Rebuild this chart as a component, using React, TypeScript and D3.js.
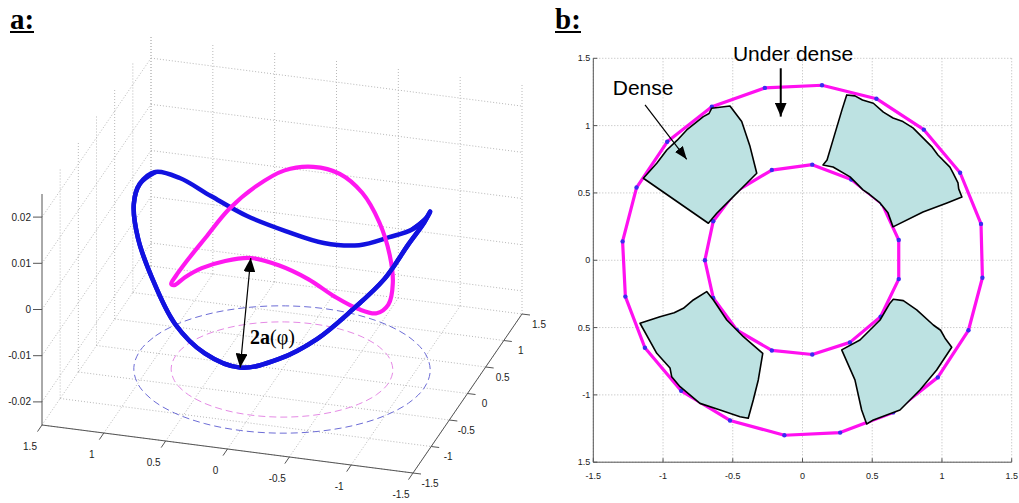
import * as d3 from "d3";

type P2 = [number, number];
type P3 = [number, number, number];

// ---------- panel a: two closed 3D curves, z read every 15 degrees ----------
const curveAngles = [0, 15, 30, 45, 60, 75, 90, 105, 120, 135, 150, 165, 180, 195, 210, 225, 240, 255, 270, 285, 300, 315, 330, 345];
const blueRadius = 1.15;
const magentaRadius = 0.86;
const blueZ = [0.0112, 0.0105, 0.0064, 0.0004, -0.0052, -0.0088, -0.0108, -0.0098, -0.0058, -0.0012, 0.0046, 0.0096, 0.0108, 0.0094, 0.0046, 0.0002, -0.005, -0.009, -0.0114, -0.0098, -0.0056, 0.0014, 0.0066, 0.0104];
const magentaZ = [-0.0078, -0.0068, -0.004, 0.0006, 0.0046, 0.0078, 0.009, 0.0086, 0.0062, 0.002, -0.0026, -0.006, -0.008, -0.0074, -0.0044, -0.0002, 0.0046, 0.0078, 0.009, 0.0072, 0.004, -0.0002, -0.0044, -0.0068];
const arrowAngleIndex = 18; // 270 degrees, where 2a(phi) is marked

const zTicks = [-0.02, -0.01, 0, 0.01, 0.02];
const zTickLabels = ["-0.02", "-0.01", "0", "0.01", "0.02"];
const xyTicks = [-1.5, -1, -0.5, 0, 0.5, 1, 1.5];
const xyTickLabels = ["-1.5", "-1", "-0.5", "0", "0.5", "1", "1.5"];

// ---------- panel b: rings and dense patches ----------
const outerRing: P2[] = [
  [-0.27, 1.28], [0.14, 1.3], [0.53, 1.2], [0.87, 0.97], [1.13, 0.65],
  [1.28, 0.27], [1.29, -0.13], [1.19, -0.52], [0.97, -0.87], [0.65, -1.13],
  [0.27, -1.28], [-0.13, -1.3], [-0.52, -1.19], [-0.87, -0.97], [-1.13, -0.65],
  [-1.27, -0.27], [-1.29, 0.14], [-1.19, 0.54], [-0.97, 0.88], [-0.65, 1.14],
];
const innerRing: P2[] = [
  [-0.22, 0.67], [0.07, 0.71], [0.35, 0.6], [0.57, 0.42], [0.69, 0.15],
  [0.69, -0.14], [0.56, -0.42], [0.34, -0.61], [0.07, -0.7], [-0.22, -0.67],
  [-0.47, -0.52], [-0.64, -0.28], [-0.7, 0.0], [-0.64, 0.29], [-0.48, 0.51],
];
const denseTopLeft: P2[] = [
  [-1.141, 0.609], [-1.045, 0.721], [-0.973, 0.819], [-0.9, 0.89], [-0.83, 0.968],
  [-0.711, 1.067], [-0.67, 1.09], [-0.651, 1.129], [-0.52, 1.146], [-0.436, 1.03],
  [-0.376, 0.844], [-0.328, 0.646], [-0.4, 0.572], [-0.496, 0.473], [-0.615, 0.349],
  [-0.675, 0.275],
];
const denseTopRight: P2[] = [
  [0.317, 1.228], [0.376, 1.221], [0.43, 1.19], [0.508, 1.166], [0.58, 1.1], [0.649, 1.057],
  [0.72, 1.03], [0.792, 0.983], [0.878, 0.894], [0.93, 0.84], [0.971, 0.782], [1.057, 0.692],
  [1.079, 0.649], [1.115, 0.574], [1.12, 0.53], [1.143, 0.47], [1.036, 0.426], [0.864, 0.359],
  [0.649, 0.248], [0.613, 0.352], [0.556, 0.426], [0.48, 0.49], [0.434, 0.523], [0.341, 0.619],
  [0.219, 0.693], [0.147, 0.708], [0.176, 0.745], [0.219, 0.894], [0.283, 1.117],
];
const denseBottomLeft: P2[] = [
  [-1.165, -0.468], [-1.022, -0.419], [-0.92, -0.39], [-0.854, -0.357], [-0.783, -0.295],
  [-0.687, -0.233], [-0.639, -0.295], [-0.543, -0.444], [-0.424, -0.568], [-0.285, -0.691],
  [-0.317, -0.889], [-0.353, -1.038], [-0.389, -1.174], [-0.448, -1.162], [-0.591, -1.112],
  [-0.735, -1.063], [-0.878, -0.939], [-0.938, -0.865], [-0.95, -0.8], [-1.045, -0.691],
];
const denseBottomRight: P2[] = [
  [0.281, -0.666], [0.412, -0.592], [0.556, -0.444], [0.627, -0.319], [0.651, -0.29],
  [0.723, -0.3], [0.819, -0.369], [0.938, -0.481], [0.99, -0.52], [1.022, -0.579], [1.07, -0.646],
  [0.962, -0.815], [0.842, -0.964], [0.699, -1.112], [0.508, -1.186], [0.46, -1.216],
  [0.424, -1.112], [0.376, -0.889],
];
const densePatches = [denseTopLeft, denseTopRight, denseBottomLeft, denseBottomRight];

// ---------- panel a projection (orthographic view of the 3D box) ----------
const zDomain: [number, number] = [-0.025, 0.025];
const corner: P2 = [42, 425]; // x=1.5, y=-1.5, z=min
const xOffX = d3.scaleLinear().domain([1.5, -1.5]).range([0, 371]);
const xOffY = d3.scaleLinear().domain([1.5, -1.5]).range([0, 48]);
const yOffX = d3.scaleLinear().domain([-1.5, 1.5]).range([0, 109]);
const yOffY = d3.scaleLinear().domain([-1.5, 1.5]).range([0, -159]);
const zOff = d3.scaleLinear().domain(zDomain).range([0, -231]);

const proj = ([x, y, z]: P3): P2 => [
  corner[0] + xOffX(x) + yOffX(y),
  corner[1] + xOffY(x) + yOffY(y) + zOff(z),
];

const rad = (deg: number) => (deg * Math.PI) / 180;
const curve3D = (r: number, zs: number[]): P3[] =>
  curveAngles.map((a, i) => [r * Math.cos(rad(a)), r * Math.sin(rad(a)), zs[i]]);

const closedLine = d3.line<P2>().curve(d3.curveCatmullRomClosed.alpha(0.5));
const openLine = d3.line<P2>().curve(d3.curveCatmullRom.alpha(0.5));

const gridStroke = "#b8b8b8";

function PanelA() {
  const [zLo, zHi] = zDomain;
  const segs: [P3, P3][] = [];
  // back wall y = 1.5
  xyTicks.forEach((x) => segs.push([[x, 1.5, zLo], [x, 1.5, zHi]]));
  zTicks.forEach((z) => segs.push([[1.5, 1.5, z], [-1.5, 1.5, z]]));
  // left wall x = 1.5
  xyTicks.filter((y) => y > -1.5).forEach((y) => segs.push([[1.5, y, zLo], [1.5, y, zHi]]));
  zTicks.forEach((z) => segs.push([[1.5, -1.5, z], [1.5, 1.5, z]]));
  // floor
  xyTicks.forEach((x) => segs.push([[x, -1.5, zLo], [x, 1.5, zLo]]));
  xyTicks.forEach((y) => segs.push([[1.5, y, zLo], [-1.5, y, zLo]]));

  const blue = curve3D(blueRadius, blueZ).map(proj);
  const magenta = curve3D(magentaRadius, magentaZ).map(proj);
  const blueFloor = curve3D(blueRadius, blueZ.map(() => zLo)).map(proj);
  const magentaFloor = curve3D(magentaRadius, magentaZ.map(() => zLo)).map(proj);
  // front half of the blue curve, redrawn over the magenta one
  const frontIdx = [9, 10, 11, 12, 13, 14, 15, 16, 17, 18, 19, 20, 21, 22, 23, 0, 1];
  const blueFront = frontIdx.map((i) => blue[i]);

  const a0 = magenta[arrowAngleIndex];
  const a1 = blue[arrowAngleIndex];

  const axisZ = [proj([1.5, -1.5, zLo]), proj([1.5, -1.5, zHi])];
  const axisX = [proj([1.5, -1.5, zLo]), proj([-1.5, -1.5, zLo])];
  const axisY = [proj([-1.5, -1.5, zLo]), proj([-1.5, 1.5, zLo])];

  return (
    <g>
      {segs.map(([p, q], i) => {
        const a = proj(p);
        const b = proj(q);
        return (
          <line key={i} x1={a[0]} y1={a[1]} x2={b[0]} y2={b[1]} stroke={gridStroke} strokeWidth={1} strokeDasharray="1,2" />
        );
      })}
      <path d={closedLine(blueFloor) ?? ""} fill="none" stroke="#6d6dd6" strokeWidth={1} strokeDasharray="7,4" />
      <path d={closedLine(magentaFloor) ?? ""} fill="none" stroke="#e58ae5" strokeWidth={1} strokeDasharray="7,4" />

      {/* axes */}
      {[axisZ, axisX, axisY].map((ax, i) => (
        <line key={i} x1={ax[0][0]} y1={ax[0][1]} x2={ax[1][0]} y2={ax[1][1]} stroke="#555" strokeWidth={1} />
      ))}
      {zTicks.map((z, i) => {
        const [px, py] = proj([1.5, -1.5, z]);
        return (
          <g key={z}>
            <line x1={px - 9} x2={px} y1={py} y2={py} stroke="#555" />
            <text x={px - 11} y={py} dy="0.35em" textAnchor="end" fontSize={10} fill="#222">
              {zTickLabels[i]}
            </text>
          </g>
        );
      })}
      {xyTicks.map((x, i) => {
        const [px, py] = proj([x, -1.5, zLo]);
        return (
          <g key={"x" + x}>
            <line x1={px} y1={py} x2={px - 4.5} y2={py + 6.6} stroke="#555" />
            <text x={px - 12} y={py + 24.5} textAnchor="middle" fontSize={10} fill="#222">
              {xyTickLabels[i]}
            </text>
          </g>
        );
      })}
      {xyTicks.map((y, i) => {
        const [px, py] = proj([-1.5, y, zLo]);
        return (
          <g key={"y" + y}>
            <line x1={px} y1={py} x2={px + 8} y2={py + 1} stroke="#555" />
            <text x={px + 17} y={py + 13.5} textAnchor="middle" fontSize={10} fill="#222">
              {xyTickLabels[i]}
            </text>
          </g>
        );
      })}

      {/* curves: blue back, magenta, blue front on top */}
      <path d={closedLine(blue) ?? ""} fill="none" stroke="#1212e0" strokeWidth={4.5} strokeLinejoin="round" />
      <path d={closedLine(magenta) ?? ""} fill="none" stroke="#ff18f0" strokeWidth={4.2} strokeLinejoin="round" />
      <path d={openLine(blueFront) ?? ""} fill="none" stroke="#1212e0" strokeWidth={4.5} strokeLinejoin="round" />

      <line x1={a0[0]} y1={a0[1]} x2={a1[0]} y2={a1[1]} stroke="#000" strokeWidth={1.2}
        markerStart="url(#head)" markerEnd="url(#head)" />
      <text x={250} y={344} fontFamily="'Liberation Serif', 'Times New Roman', serif" fontSize={20} fill="#000">
        <tspan fontWeight={700}>2a</tspan>
        <tspan>(φ)</tspan>
      </text>

      <text x={10} y={29} fontFamily="'Liberation Serif', 'Times New Roman', serif" fontSize={29} fontWeight={700}>
        a:
      </text>
      <line x1={10} x2={34} y1={32} y2={32} stroke="#000" strokeWidth={2} />
    </g>
  );
}

// ---------- panel b ----------
const xB = d3.scaleLinear().domain([-1.5, 1.5]).range([593.3, 1011.7]);
const yB = d3.scaleLinear().domain([-1.5, 1.5]).range([462.2, 58.3]);
const ringLine = d3.line<P2>().x((d) => xB(d[0])).y((d) => yB(d[1])).curve(d3.curveLinearClosed);

function PanelB() {
  const [x0, x1] = xB.range();
  const [y0, y1] = yB.range();
  return (
    <g clipPath="url(#clipB)">
      {xyTicks.map((t) => (
        <g key={t}>
          <line x1={xB(t)} x2={xB(t)} y1={y1} y2={y0} stroke={gridStroke} strokeDasharray="1,2" />
          <line x1={x0} x2={x1} y1={yB(t)} y2={yB(t)} stroke={gridStroke} strokeDasharray="1,2" />
        </g>
      ))}
      <line x1={x0} x2={x0} y1={y1} y2={y0} stroke="#555" />
      <line x1={x0} x2={x1} y1={y0} y2={y0} stroke="#555" />
      {xyTicks.map((t, i) => (
        <g key={"t" + t}>
          <line x1={x0} x2={x0 + 4} y1={yB(t)} y2={yB(t)} stroke="#555" />
          <line x1={xB(t)} x2={xB(t)} y1={y0} y2={y0 - 4} stroke="#555" />
          <text x={x0 - 3} y={yB(t)} dy="0.35em" textAnchor="end" fontSize={9} fill="#222">
            {xyTickLabels[i]}
          </text>
          <text x={xB(t)} y={479} textAnchor="middle" fontSize={9} fill="#222">
            {xyTickLabels[i]}
          </text>
        </g>
      ))}

      {[outerRing, innerRing].map((ring, i) => (
        <g key={i}>
          <path d={ringLine(ring) ?? ""} fill="none" stroke="#ff10f0" strokeWidth={3.2} strokeLinejoin="round" />
          {ring.map((d, j) => (
            <circle key={j} cx={xB(d[0])} cy={yB(d[1])} r={2.2} fill="#3a2cf0" />
          ))}
        </g>
      ))}
      {densePatches.map((p, i) => (
        <path key={i} d={ringLine(p) ?? ""} fill="#bde2e2" stroke="#000" strokeWidth={1.6} strokeLinejoin="round" />
      ))}

      <text x={xB(-0.068)} y={yB(1.481)} textAnchor="middle" fontSize={21} fill="#000">
        Under dense
      </text>
      <line x1={xB(-0.156)} x2={xB(-0.156)} y1={yB(1.426)} y2={yB(1.067)} stroke="#000" strokeWidth={2}
        markerEnd="url(#head)" />
      <text x={xB(-1.143)} y={yB(1.228)} textAnchor="middle" fontSize={21} fill="#000">
        Dense
      </text>
      <line x1={xB(-1.129)} y1={yB(1.154)} x2={xB(-0.83)} y2={yB(0.75)} stroke="#000" strokeWidth={1.2}
        markerEnd="url(#headSmall)" />
    </g>
  );
}

export default function App() {
  return (
    <svg width={1019} height={503} style={{ position: "absolute", left: 0, top: 0, background: "#fff" }}
      fontFamily="Arial, 'Liberation Sans', Helvetica, sans-serif">
      <defs>
        <marker id="head" viewBox="0 0 14 12" refX={14} refY={6} markerWidth={14} markerHeight={12}
          markerUnits="userSpaceOnUse" orient="auto-start-reverse">
          <path d="M0,0L14,6L0,12Z" fill="#000" />
        </marker>
        <marker id="headSmall" viewBox="0 0 13 10" refX={13} refY={5} markerWidth={13} markerHeight={10}
          markerUnits="userSpaceOnUse" orient="auto">
          <path d="M0,0L13,5L0,10Z" fill="#000" />
        </marker>
        <clipPath id="clipB">
          <rect x={578} y={0} width={441} height={503} />
        </clipPath>
      </defs>
      <rect width={1019} height={503} fill="#fff" />
      <PanelA />
      <PanelB />
      <text x={555} y={29} fontFamily="'Liberation Serif', 'Times New Roman', serif" fontSize={29} fontWeight={700}>
        b:
      </text>
      <line x1={555} x2={581} y1={32} y2={32} stroke="#000" strokeWidth={2} />
    </svg>
  );
}
